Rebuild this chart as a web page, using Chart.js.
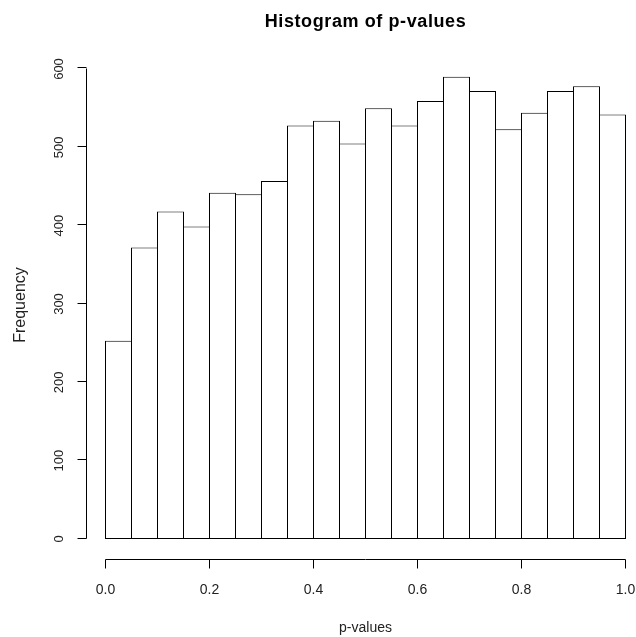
<!DOCTYPE html>
<html>
<head>
<meta charset="utf-8">
<script src="https://cdn.jsdelivr.net/npm/chart.js@4.4.1/dist/chart.umd.min.js"></script>
<style>
  html, body { margin: 0; padding: 0; background: #fff; }
  #wrap { width: 636px; height: 637px; }
</style>
</head>
<body>
<div id="wrap"><canvas id="histChart" width="636" height="637"></canvas></div>
<script>
// histogram of p-values, 20 bins of width 0.05
const binStarts = [0.00, 0.05, 0.10, 0.15, 0.20, 0.25, 0.30, 0.35, 0.40, 0.45,
                   0.50, 0.55, 0.60, 0.65, 0.70, 0.75, 0.80, 0.85, 0.90, 0.95];
const binWidth = 0.05;
const counts = [253, 372, 418, 399, 442, 440, 457, 528, 534, 505,
                550, 528, 559, 590, 572, 523, 544, 572, 578, 542];
const xTicks = [0, 0.2, 0.4, 0.6, 0.8, 1.0];
const xTickLabels = ['0.0', '0.2', '0.4', '0.6', '0.8', '1.0'];
const yTicks = [0, 100, 200, 300, 400, 500, 600];

const chartTitle = 'Histogram of p-values';
const xTitle = 'p-values';
const yTitle = 'Frequency';

const fontFamily = '"Liberation Sans", Arial, sans-serif';

const histData = binStarts.map((b, i) => ({ x: b + binWidth / 2, y: counts[i] }));

// plot region is 540px wide, one unit of p is 520px
const xMin = -19.5 / 520;
const xMax = xMin + 540 / 520;
// plot region is 500px high, 600 counts are 470px, zero sits 19px above the bottom
const yMin = -19 * 600 / 470;
const yMax = yMin + 500 * 600 / 470;

// R style axes, drawn off the chart's own scales
const rAxesPlugin = {
    id: 'rAxes',
    afterDraw(chart) {
        const ctx = chart.ctx;
        const xs = chart.scales.x;
        const ys = chart.scales.y;
        const area = chart.chartArea;

        ctx.save();
        ctx.strokeStyle = '#000';
        ctx.lineWidth = 1;

        // x axis
        const axY = area.bottom + 1.5;
        ctx.beginPath();
        ctx.moveTo(Math.floor(xs.getPixelForValue(xTicks[0])) + 0.5, axY);
        ctx.lineTo(Math.floor(xs.getPixelForValue(xTicks[xTicks.length - 1])) + 0.5, axY);
        xTicks.forEach(v => {
            const px = Math.floor(xs.getPixelForValue(v)) + 0.5;
            ctx.moveTo(px, axY);
            ctx.lineTo(px, axY + 9);
        });
        ctx.stroke();

        ctx.fillStyle = '#222';
        ctx.font = '14px ' + fontFamily;
        ctx.textAlign = 'center';
        ctx.textBaseline = 'middle';
        xTicks.forEach((v, i) => {
            ctx.fillText(xTickLabels[i], xs.getPixelForValue(v), 590);
        });
        ctx.textBaseline = 'alphabetic';
        ctx.fillText(xTitle, xs.getPixelForValue(0.5), 632);

        // y axis
        const axX = area.left + 0.5;
        ctx.beginPath();
        ctx.moveTo(axX, Math.floor(ys.getPixelForValue(yTicks[0])) - 0.5);
        ctx.lineTo(axX, Math.floor(ys.getPixelForValue(yTicks[yTicks.length - 1])) + 0.5);
        yTicks.forEach(v => {
            const py = Math.floor(ys.getPixelForValue(v)) - 0.5;
            ctx.moveTo(axX, py);
            ctx.lineTo(axX - 9, py);
        });
        ctx.stroke();

        ctx.font = '13px ' + fontFamily;
        ctx.textBaseline = 'middle';
        yTicks.forEach(v => {
            ctx.save();
            ctx.translate(59, ys.getPixelForValue(v));
            ctx.rotate(-Math.PI / 2);
            ctx.fillText(String(v), 0, 0);
            ctx.restore();
        });
        ctx.font = '16px ' + fontFamily;
        ctx.save();
        ctx.translate(21, 305);
        ctx.rotate(-Math.PI / 2);
        ctx.fillText(yTitle, 0, 0);
        ctx.restore();

        // title
        ctx.font = 'bold 18px ' + fontFamily;
        ctx.letterSpacing = '0.6px';
        ctx.fillStyle = '#000';
        ctx.fillText(chartTitle, xs.getPixelForValue(0.5), 22);

        ctx.restore();
    }
};

const histCtx = document.getElementById('histChart').getContext('2d');

const histChart = new Chart(histCtx, {
    type: 'bar',
    data: {
        datasets: [{
            data: histData,
            backgroundColor: '#ffffff',
            borderColor: '#000000',
            borderWidth: 1,
            borderSkipped: false,
            // bars 1px wider than a bin, so neighbours share one edge
            barPercentage: 27 / 26,
            categoryPercentage: 1.0
        }]
    },
    options: {
        responsive: false,
        animation: false,
        layout: {
            padding: { left: 86, right: 10, top: 58, bottom: 79 }
        },
        plugins: {
            legend: { display: false },
            tooltip: { enabled: false },
            title: { display: false }
        },
        scales: {
            x: {
                type: 'linear',
                display: false,
                min: xMin,
                max: xMax,
                offset: false
            },
            y: {
                display: false,
                min: yMin,
                max: yMax
            }
        }
    },
    plugins: [rAxesPlugin]
});
</script>
</body>
</html>
